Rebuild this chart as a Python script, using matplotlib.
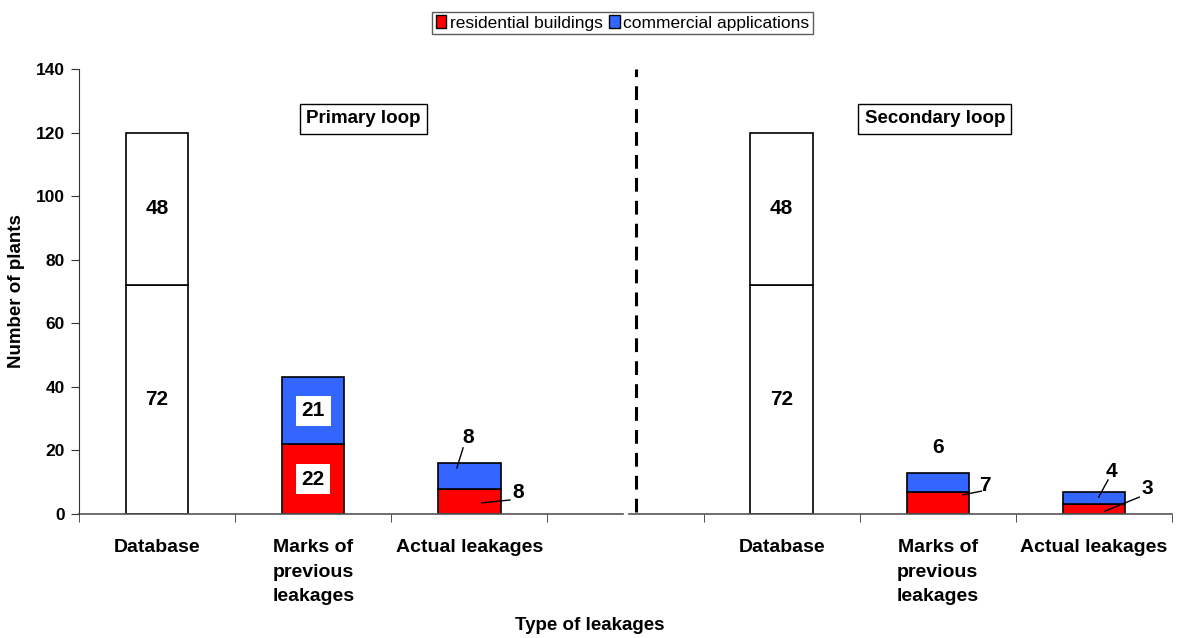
import matplotlib.pyplot as plt
from matplotlib.patches import Patch

plt.rcParams['font.family'] = ['Liberation Sans', 'DejaVu Sans']

# Leakage counts per loop (database split, residential, commercial)
kinds = ['Database', 'Marks of\nprevious\nleakages', 'Actual leakages']
loops = ['Primary loop', 'Secondary loop']
db_lower = [72, 72]
db_upper = [48, 48]
res_primary = [22, 8]
com_primary = [21, 8]
res_secondary = [7, 3]
com_secondary = [6, 4]

RED = '#ff0000'
BLUE = '#3366ff'
W = 0.4
NUM = 15

fig = plt.figure(figsize=(11.77, 6.38), dpi=100)
ax = fig.add_axes([0.0671, 0.1944, 0.9287, 0.6974])

x_primary = [0, 1, 2]
x_secondary = [4, 5, 6]

# database bars (white, split)
for x, lo, hi in zip([0, 4], db_lower, db_upper):
    ax.bar(x, lo, W, color='white', edgecolor='black', lw=1.2)
    ax.bar(x, hi, W, bottom=lo, color='white', edgecolor='black', lw=1.2)
    ax.text(x, lo / 2, str(lo), ha='center', va='center', fontsize=NUM, fontweight='bold')
    ax.text(x, lo + hi / 2, str(hi), ha='center', va='center', fontsize=NUM, fontweight='bold')

# residential / commercial stacks
for xs, res, com in [(x_primary[1:], res_primary, com_primary),
                     (x_secondary[1:], res_secondary, com_secondary)]:
    ax.bar(xs, res, W, color=RED, edgecolor='black', lw=1.2)
    ax.bar(xs, com, W, bottom=res, color=BLUE, edgecolor='black', lw=1.2)

# labels on the primary "marks" bar sit in white boxes
box = dict(facecolor='white', edgecolor='none', pad=4)
ax.text(1, res_primary[0] / 2, str(res_primary[0]), ha='center', va='center',
        fontsize=NUM, fontweight='bold', bbox=box)
ax.text(1, res_primary[0] + com_primary[0] / 2, str(com_primary[0]), ha='center',
        va='center', fontsize=NUM, fontweight='bold', bbox=box)

lbl = dict(ha='center', va='center', fontsize=NUM, fontweight='bold')
lead = dict(color='black', lw=1)

# primary actual leakages
ax.text(1.99, 24.2, str(com_primary[1]), **lbl)
ax.plot([1.96, 1.92], [20.8, 14.5], **lead)
ax.text(2.31, 6.9, str(res_primary[1]), **lbl)
ax.plot([2.26, 2.08], [4.4, 3.5], **lead)

# secondary marks
ax.text(5.0, 21.0, str(com_secondary[0]), **lbl)
ax.text(5.30, 9.1, str(res_secondary[0]), **lbl)
ax.plot([5.28, 5.16], [7.2, 6.0], **lead)

# secondary actual leakages
ax.text(6.11, 13.4, str(com_secondary[1]), **lbl)
ax.plot([6.09, 6.03], [10.7, 5.3], **lead)
ax.text(6.34, 7.9, str(res_secondary[1]), **lbl)
ax.plot([6.29, 6.07], [5.3, 0.9], **lead)

# loop titles
for x, name in zip([1.32, 4.98], loops):
    ax.text(x, 124.3, name, ha='center', va='center', fontsize=13.5, fontweight='bold',
            bbox=dict(facecolor='white', edgecolor='black', lw=1, pad=4.5))

# separator between loops
ax.plot([3.07, 3.07], [0.6, 140], color='black', lw=2.2, dashes=(4.5, 3), clip_on=False)

ax.set_xlim(-0.5, 6.5)
ax.set_ylim(0, 140)
ax.set_yticks(range(0, 141, 20))
ax.set_xticks(x_primary + x_secondary)
ax.set_xticklabels(kinds + kinds, fontsize=14, fontweight='bold', va='top',
                   linespacing=1.58)
ax.set_xticks([i - 0.5 for i in range(8)], minor=True)
ax.tick_params(axis='x', which='major', length=0, pad=18)
ax.tick_params(axis='x', which='minor', length=6, direction='out', color='#333333')
ax.tick_params(axis='y', length=6, direction='out', color='#333333', labelsize=12.5, pad=4)
for t in ax.get_yticklabels():
    t.set_fontweight('bold')

for s in ['top', 'right', 'bottom']:
    ax.spines[s].set_visible(False)
ax.spines['left'].set_color('#333333')

# bottom axis line, broken at the separator
ax.plot([-0.5, 2.985], [0, 0], color='#555555', lw=1.2, clip_on=False)
ax.plot([3.025, 6.5], [0, 0], color='#555555', lw=1.2, clip_on=False)

ax.set_ylabel('Number of plants', fontsize=13.5, fontweight='bold', labelpad=8)
fig.text(0.501, 0.019, 'Type of leakages', ha='center', va='center',
         fontsize=13.5, fontweight='bold')

handles = [Patch(facecolor=RED, edgecolor='black'), Patch(facecolor=BLUE, edgecolor='black')]
fig.legend(handles, ['residential buildings', 'commercial applications'],
           loc='center', bbox_to_anchor=(0.529, 0.964), ncol=2, fontsize=12.5,
           frameon=True, fancybox=False, edgecolor='#333333', handlelength=0.6,
           handleheight=0.8, handletextpad=0.2, columnspacing=0.4,
           borderpad=0.2, borderaxespad=0)

fig.savefig('out.png', dpi=100)
